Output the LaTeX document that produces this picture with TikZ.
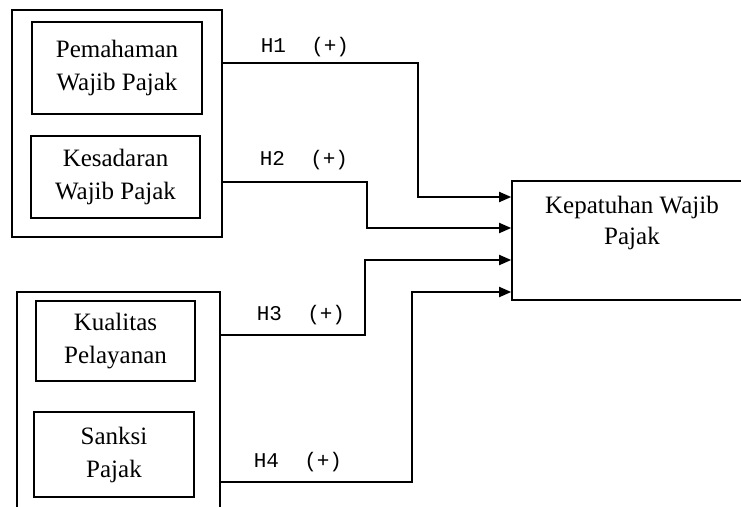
\documentclass[tikz,border=0pt]{standalone}
\usepackage{fontspec}
\setmainfont{Liberation Serif}
\setmonofont{Liberation Mono}
\usetikzlibrary{arrows.meta,calc}
\begin{document}
\begin{tikzpicture}[x=1pt,y=-1pt,
  box/.style={draw, line width=1.6pt, inner sep=0pt, align=center, font=\fontsize{25}{33}\selectfont},
  grp/.style={draw, line width=1.6pt, inner sep=0pt},
  lab/.style={font=\ttfamily\fontsize{21}{21}\selectfont, inner sep=0pt},
  conn/.style={line width=1.8pt, -{Triangle[length=12pt,width=10pt]}},
]
\useasboundingbox (0,0) rectangle (741,506);
\clip (0,0) rectangle (741,506);
\fill[white] (0,0) rectangle (741,506);

% groups
\node[grp, minimum width=210pt, minimum height=227pt] (grp1) at (117,123.5) {};
\node[grp, minimum width=203pt, minimum height=228pt] (grp2) at (118.5,406) {};

% inner boxes
\node[box, minimum width=170pt, minimum height=92pt] (pem) at (117,68) {Pemahaman\\Wajib Pajak};
\node[box, minimum width=169pt, minimum height=82pt] (kes) at (115.5,177) {Kesadaran\\Wajib Pajak};
\node[box, minimum width=159pt, minimum height=80pt] (kua) at (115.5,341) {Kualitas\\Pelayanan};
\node[box, minimum width=160pt, minimum height=85pt] (san) at (114,454.5) {Sanksi\\Pajak};

% target
\node[grp, minimum width=248pt, minimum height=119pt] (kep) at (636,240.5) {};
\node[align=center, inner sep=0pt, font=\fontsize{25}{31}\selectfont] (kept) at (632,222.5) {Kepatuhan Wajib\\Pajak};

% ports
\coordinate (s1) at (grp1.east |- 0,63);
\coordinate (s2) at (grp1.east |- 0,182);
\coordinate (s3) at (grp2.east |- 0,335);
\coordinate (s4) at (grp2.east |- 0,482);
\coordinate (t1) at (kep.west |- 0,197);
\coordinate (t2) at (kep.west |- 0,228);
\coordinate (t3) at (kep.west |- 0,260);
\coordinate (t4) at (kep.west |- 0,292);

% connectors
\draw[conn] (s1) -- (418,63) -- (418,197) -- (t1);
\draw[conn] (s2) -- (367,182) -- (367,228) -- (t2);
\draw[conn] (s3) -- (365,335) -- (365,260) -- (t3);
\draw[conn] (s4) -- (412,482) -- (412,292) -- (t4);

% labels
\node[lab] (l1) at (305,47) {H1~~(+)};
\node[lab] (l2) at (304,160) {H2~~(+)};
\node[lab] (l3) at (301,315) {H3~~(+)};
\node[lab] (l4) at (298,462) {H4~~(+)};
\end{tikzpicture}
\end{document}
